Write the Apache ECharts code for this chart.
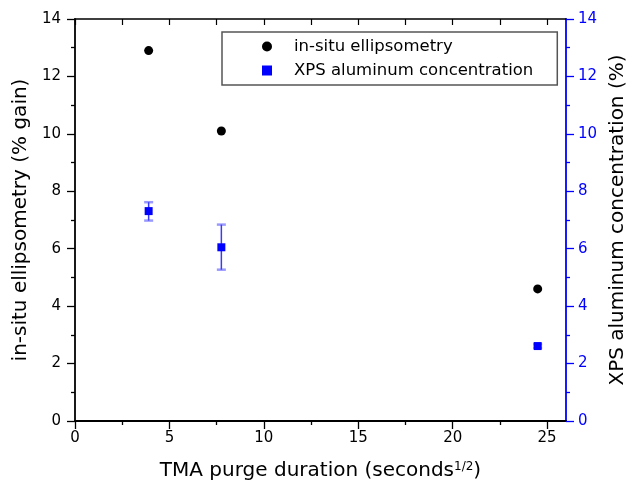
<!DOCTYPE html>
<html>
<head>
<meta charset="utf-8">
<script src="https://cdn.jsdelivr.net/npm/echarts@6/dist/echarts.min.js"></script>
<style>
html,body{margin:0;padding:0;background:#fff;}
#chart{width:626px;height:488px;}
</style>
</head>
<body>
<div id="chart"></div>
<script>
// ---- data ----
const purgeDuration = [3.9, 7.75, 24.5];          // seconds^1/2
const ellipsometryGain = [12.9, 10.1, 4.6];       // % gain (left axis)
const xpsAluminum = [7.31, 6.05, 2.61];           // % (right axis)
const xpsErrLow = [6.98, 5.27, 2.55];
const xpsErrHigh = [7.62, 6.84, 2.67];
const xMajorTicks = [0, 5, 10, 15, 20, 25];
const xMinorTicks = [2.5, 7.5, 12.5, 17.5, 22.5];
const xTopTicks = [0, 2.5, 5, 7.5, 10, 12.5, 15, 17.5, 20, 22.5, 25];
const seriesNames = ['in-situ ellipsometry', 'XPS aluminum concentration'];

const FONT = 'DejaVu Sans';
const BLUE = '#0000ff';

const ellipData = purgeDuration.map((x, i) => [x, ellipsometryGain[i]]);
const xpsData = purgeDuration.map((x, i) => [x, xpsAluminum[i]]);
const errData = purgeDuration.map((x, i) => [x, xpsAluminum[i], xpsErrLow[i], xpsErrHigh[i]]);

const chart = echarts.init(document.getElementById('chart'), null, {renderer: 'canvas'});

const option = {
  backgroundColor: '#ffffff',
  animation: false,
  grid: {left: 75, right: 60, top: 19, bottom: 67, containLabel: false, outerBoundsMode: 'none'},
  legend: {
    orient: 'vertical',
    left: 222, top: 32,
    padding: [6, 24, 6, 40],
    itemWidth: 10, itemHeight: 10, itemGap: 7,
    borderColor: '#555', borderWidth: 1.5,
    selectedMode: false,
    data: seriesNames,
    textStyle: {fontFamily: FONT, fontSize: 16.5, color: '#000', lineHeight: 16, padding: [0, 0, 0, 17]}
  },
  xAxis: [
    {
      type: 'value', position: 'bottom', min: 0, max: 26, interval: 5,
      name: 'TMA purge duration (seconds{sup|1/2})',
      nameLocation: 'middle', nameGap: 40,
      nameTextStyle: {fontFamily: FONT, fontSize: 20, color: '#000', lineHeight: 20,
        rich: {sup: {fontFamily: FONT, fontSize: 12, lineHeight: 20, verticalAlign: 'top', color: '#000', padding: [0, 0, 6, 0]}}},
      axisLine: {show: true, onZero: false, lineStyle: {color: '#000', width: 1.8}},
      axisTick: {show: true, inside: false, length: 8, customValues: xMajorTicks, lineStyle: {color: '#000', width: 1.3}},
      axisLabel: {show: true, margin: 10, customValues: xMajorTicks, fontFamily: FONT, fontSize: 15, color: '#000',
        formatter: v => (v % 5 === 0 ? String(v) : '')},
      splitLine: {show: false}
    },
    {
      type: 'value', position: 'bottom', min: 0, max: 26, interval: 2.5,
      axisLine: {show: false, onZero: false},
      axisTick: {show: true, inside: false, length: 4, customValues: xMinorTicks, lineStyle: {color: '#000', width: 1.3}},
      axisLabel: {show: false},
      splitLine: {show: false}
    },
    {
      type: 'value', position: 'top', min: 0, max: 26, interval: 2.5,
      axisLine: {show: true, onZero: false, lineStyle: {color: '#000', width: 1.5}},
      axisTick: {show: true, inside: true, length: 6, customValues: xTopTicks, lineStyle: {color: '#000', width: 1.2}},
      axisLabel: {show: false},
      splitLine: {show: false}
    }
  ],
  yAxis: [
    {
      type: 'value', position: 'left', min: 0, max: 14, interval: 2,
      name: 'in-situ ellipsometry (% gain)',
      nameLocation: 'middle', nameGap: 42,
      nameTextStyle: {fontFamily: FONT, fontSize: 20, color: '#000', lineHeight: 20},
      axisLine: {show: true, onZero: false, lineStyle: {color: '#000', width: 1.8}},
      axisTick: {show: true, inside: false, length: 8, lineStyle: {color: '#000', width: 1.3}},
      minorTick: {show: true, splitNumber: 2, length: 4, lineStyle: {color: '#000', width: 1.3}},
      axisLabel: {margin: 14, fontFamily: FONT, fontSize: 15, color: '#000'},
      splitLine: {show: false}
    },
    {
      type: 'value', position: 'right', min: 0, max: 14, interval: 2,
      name: 'XPS aluminum concentration (%)',
      nameLocation: 'middle', nameGap: 39,
      nameTextStyle: {fontFamily: FONT, fontSize: 20, color: '#000', lineHeight: 20},
      axisLine: {show: true, onZero: false, lineStyle: {color: BLUE, width: 1.8}},
      axisTick: {show: true, inside: false, length: 8, lineStyle: {color: BLUE, width: 1.3}},
      minorTick: {show: true, splitNumber: 2, length: 4, lineStyle: {color: BLUE, width: 1.3}},
      axisLabel: {margin: 12, fontFamily: FONT, fontSize: 15, color: BLUE},
      splitLine: {show: false}
    }
  ],
  series: [
    {
      name: seriesNames[0], type: 'scatter', xAxisIndex: 0, yAxisIndex: 0,
      symbol: 'circle', symbolSize: 9, z: 3,
      itemStyle: {color: '#000', opacity: 1},
      data: ellipData
    },
    {
      name: 'xps-error', type: 'custom', xAxisIndex: 0, yAxisIndex: 1, z: 2,
      encode: {x: 0, y: [2, 3]},
      silent: true,
      renderItem: function (params, api) {
        const x = api.value(0);
        const top = api.coord([x, api.value(3)]);
        const bot = api.coord([x, api.value(2)]);
        const w = 4.5;
        return {
          type: 'group',
          children: [
            {type: 'line', shape: {x1: top[0], y1: top[1], x2: bot[0], y2: bot[1]},
              style: {stroke: '#3a3aff', lineWidth: 1.5}},
            {type: 'line', shape: {x1: top[0] - w, y1: top[1], x2: top[0] + w, y2: top[1]},
              style: {stroke: 'rgba(70,70,255,0.55)', lineWidth: 2.5}},
            {type: 'line', shape: {x1: bot[0] - w, y1: bot[1], x2: bot[0] + w, y2: bot[1]},
              style: {stroke: 'rgba(70,70,255,0.55)', lineWidth: 2.5}}
          ]
        };
      },
      data: errData
    },
    {
      name: seriesNames[1], type: 'scatter', xAxisIndex: 0, yAxisIndex: 1,
      symbol: 'rect', symbolSize: 8, z: 3,
      itemStyle: {color: BLUE, opacity: 1},
      data: xpsData
    }
  ]
};
chart.setOption(option);
</script>
</body>
</html>
